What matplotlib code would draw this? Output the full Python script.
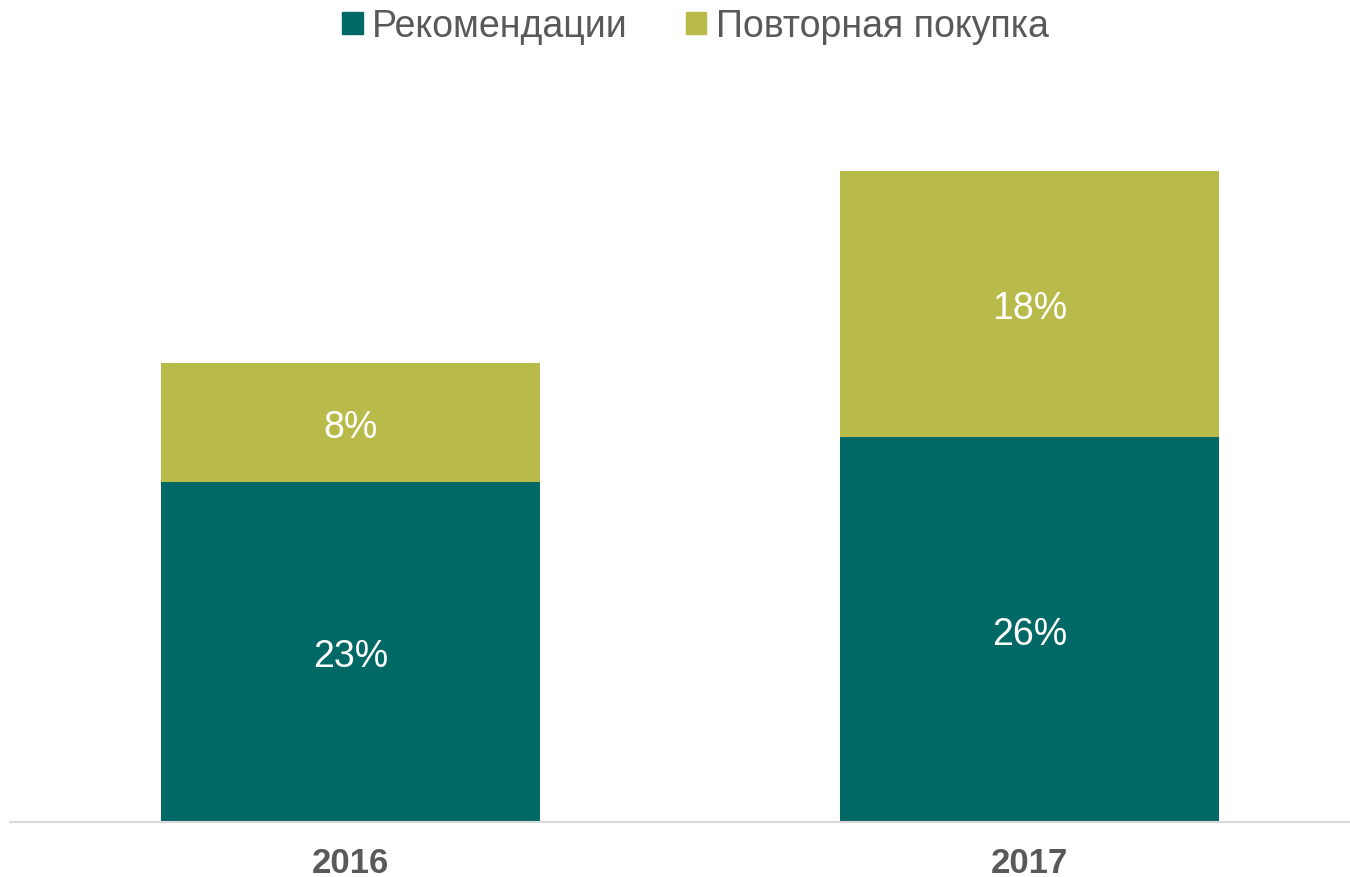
import matplotlib.pyplot as plt
from matplotlib.patches import Patch

plt.rcParams['font.family'] = ['Liberation Sans', 'DejaVu Sans']

years = ["2016", "2017"]
recommend = [23, 26]
repeat = [8, 18]
series_names = ["Рекомендации", "Повторная покупка"]
colors = ["#006865", "#b8ba4a"]
text_gray = "#595959"

fig = plt.figure(figsize=(13.5, 8.78), dpi=100)
ax = fig.add_axes([10 / 1350, 55 / 878, 1340 / 1350, 740 / 878])

x = list(range(len(years)))
w = 0.558
ax.bar(x, recommend, width=w, color=colors[0])
ax.bar(x, repeat, width=w, bottom=recommend, color=colors[1])

for i in x:
    ax.annotate(f"{recommend[i]}%", (i, recommend[i] / 2), xytext=(0, -3),
                textcoords="offset points", ha="center", va="center",
                color="white", fontsize=27)
    ax.annotate(f"{repeat[i]}%", (i, recommend[i] + repeat[i] / 2),
                xytext=(0, -3), textcoords="offset points", ha="center",
                va="center", color="white", fontsize=27)

ax.set_xlim(-0.5015, 1.472)
ax.set_ylim(0, 50)
ax.set_yticks([])
ax.set_xticks(x)
ax.set_xticklabels(years, fontsize=25, fontweight="bold", color=text_gray)
ax.tick_params(axis="x", length=0, pad=17)
for s in ["top", "right", "left"]:
    ax.spines[s].set_visible(False)
ax.spines["bottom"].set_color("#d9d9d9")
ax.spines["bottom"].set_linewidth(1.5)

handles = [Patch(color=c) for c in colors]
leg = fig.legend(handles, series_names, loc="upper center", ncol=2,
                 bbox_to_anchor=(0.515, 1.028), frameon=False, fontsize=27,
                 handlelength=0.55, handleheight=0.55, handletextpad=0.25,
                 columnspacing=1.55)
for t in leg.get_texts():
    t.set_color(text_gray)

fig.savefig("out.png", dpi=100)
